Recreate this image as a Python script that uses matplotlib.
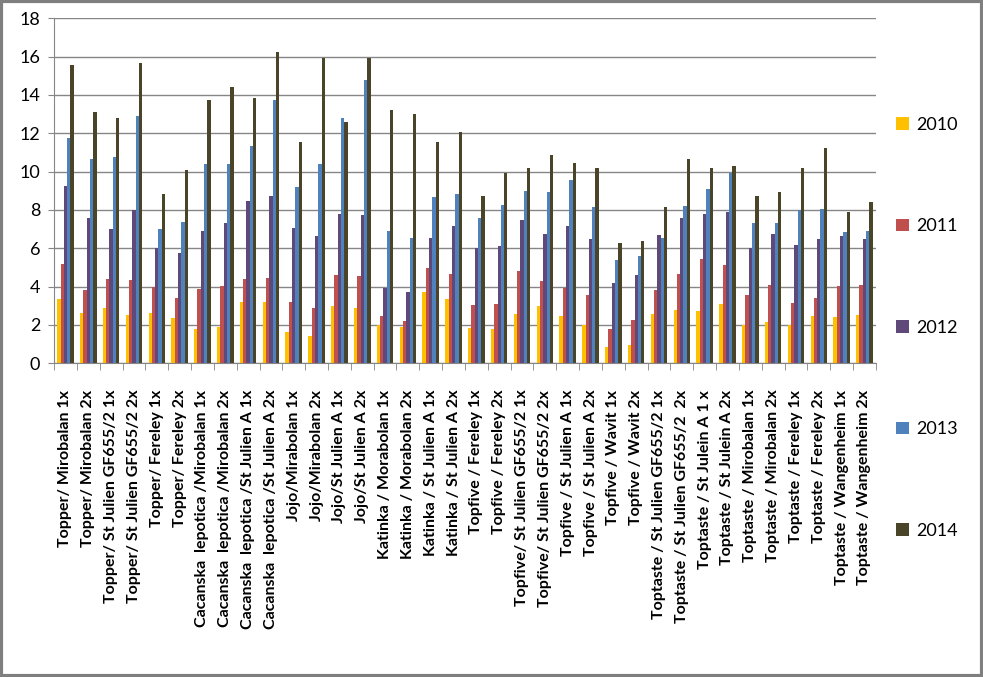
import numpy as np
import matplotlib.pyplot as plt
from matplotlib.patches import Rectangle

labels = [
    "Topper/ Mirobalan 1x", "Topper/ Mirobalan 2x",
    "Topper/ St Julien GF655/2 1x", "Topper/ St Julien GF655/2 2x",
    "Topper/ Fereley 1x", "Topper/ Fereley 2x",
    "Cacanska  lepotica /Mirobalan 1x", "Cacanska  lepotica /Mirobalan 2x",
    "Cacanska  lepotica /St Julien A 1x", "Cacanska  lepotica /St Julien A 2x",
    "Jojo/Mirabolan 1x", "Jojo/Mirabolan 2x",
    "Jojo/St Julien A 1x", "Jojo/St Julien A 2x",
    "Katinka / Morabolan 1x", "Katinka / Morabolan 2x",
    "Katinka / St Julien A 1x", "Katinka / St Julien A 2x",
    "Topfive / Fereley 1x", "Topfive / Fereley 2x",
    "Topfive/ St Julien GF655/2 1x", "Topfive/ St Julien GF655/2 2x",
    "Topfive / St Julien A 1x", "Topfive / St Julien A 2x",
    "Topfive / Wavit 1x", "Topfive / Wavit 2x",
    "Toptaste / St Julien GF655/2 1x", "Toptaste / St Julien GF655/2  2x",
    "Toptaste / St Julein A 1 x", "Toptaste / St Julein A 2x",
    "Toptaste / Mirobalan 1x", "Toptaste / Mirobalan 2x",
    "Toptaste / Fereley 1x", "Toptaste / Fereley 2x",
    "Toptaste / Wangenheim 1x", "Toptaste / Wangenheim 2x",
]

y2010 = [3.36, 2.64, 2.89, 2.52, 2.61, 2.37, 1.79, 1.90, 3.20, 3.20, 1.63, 1.43,
         2.99, 2.89, 2.00, 1.90, 3.72, 3.36, 1.84, 1.79, 2.57, 2.99, 2.47, 2.00,
         0.85, 0.96, 2.57, 2.78, 2.73, 3.10, 2.00, 2.16, 2.00, 2.47, 2.42, 2.52]
y2011 = [5.18, 3.83, 4.40, 4.35, 4.00, 3.41, 3.88, 4.03, 4.40, 4.45, 3.20, 2.89,
         4.61, 4.56, 2.47, 2.21, 4.97, 4.66, 3.04, 3.10, 4.82, 4.30, 3.93, 3.57,
         1.79, 2.26, 3.83, 4.66, 5.44, 5.13, 3.57, 4.09, 3.15, 3.41, 4.03, 4.09]
y2012 = [9.25, 7.58, 7.01, 7.98, 6.00, 5.76, 6.90, 7.32, 8.47, 8.73, 7.06, 6.64,
         7.79, 7.74, 3.93, 3.72, 6.54, 7.17, 6.02, 6.12, 7.48, 6.75, 7.17, 6.49,
         4.19, 4.61, 6.70, 7.58, 7.79, 7.90, 6.00, 6.75, 6.17, 6.49, 6.64, 6.49]
y2013 = [11.77, 10.66, 10.77, 12.90, 7.01, 7.37, 10.40, 10.40, 11.34, 13.74, 9.20, 10.40,
         12.80, 14.78, 6.90, 6.54, 8.68, 8.83, 7.58, 8.26, 8.99, 8.94, 9.57, 8.16,
         5.39, 5.60, 6.54, 8.21, 9.10, 9.93, 7.32, 7.32, 8.00, 8.05, 6.85, 6.90]
y2014 = [15.57, 13.11, 12.80, 15.67, 8.83, 10.09, 13.74, 14.42, 13.84, 16.24, 11.55, 15.93,
         12.59, 15.93, 13.22, 13.00, 11.55, 12.07, 8.73, 9.93, 10.19, 10.87, 10.45, 10.19,
         6.28, 6.38, 8.16, 10.66, 10.19, 10.30, 8.73, 8.94, 10.19, 11.23, 7.90, 8.42]

years = ["2010", "2011", "2012", "2013", "2014"]
colors = ["#FFC000", "#C0504D", "#5F497A", "#4F81BD", "#4A4429"]
series = [y2010, y2011, y2012, y2013, y2014]

plt.rcParams['font.family'] = ['Lato', 'DejaVu Sans']

fig = plt.figure(figsize=(9.83, 6.77), dpi=100)
ax = fig.add_axes([0.055, 0.4634, 0.836, 0.5096])

x = np.arange(len(labels))
w = 0.145
for i, (vals, c, yr) in enumerate(zip(series, colors, years)):
    ax.bar(x + (i - 2) * w, vals, width=w, color=c, label=yr, linewidth=0)

ax.set_xlim(-0.5, len(labels) - 0.5)
ax.set_ylim(0, 18)
ax.set_yticks(range(0, 19, 2))
ax.tick_params(axis='y', labelsize=13, length=4, color='#868686', pad=6)
ax.yaxis.grid(True, color='#868686', linewidth=1)
ax.set_axisbelow(True)

ax.set_xticks(x)
ax.set_xticklabels(labels, rotation=90, fontsize=11.5, fontweight='bold')
ax.set_xticks(np.arange(-0.5, len(labels), 1), minor=True)
ax.tick_params(axis='x', which='major', length=0, pad=19)
ax.tick_params(axis='x', which='minor', length=5, color='#868686')

for s in ['top', 'right']:
    ax.spines[s].set_visible(False)
for s in ['left', 'bottom']:
    ax.spines[s].set_color('#868686')

ax.legend(loc='upper left', bbox_to_anchor=(1.005, 0.761), frameon=False,
          fontsize=13, labelspacing=4.73, handlelength=0.7, handleheight=0.7,
          handletextpad=0.4)

fig.patches.append(Rectangle((0.0015, 0.002), 0.997, 0.996, transform=fig.transFigure,
                             fill=False, edgecolor='#7f7f7f', linewidth=3))

fig.savefig('out.png', dpi=100)
